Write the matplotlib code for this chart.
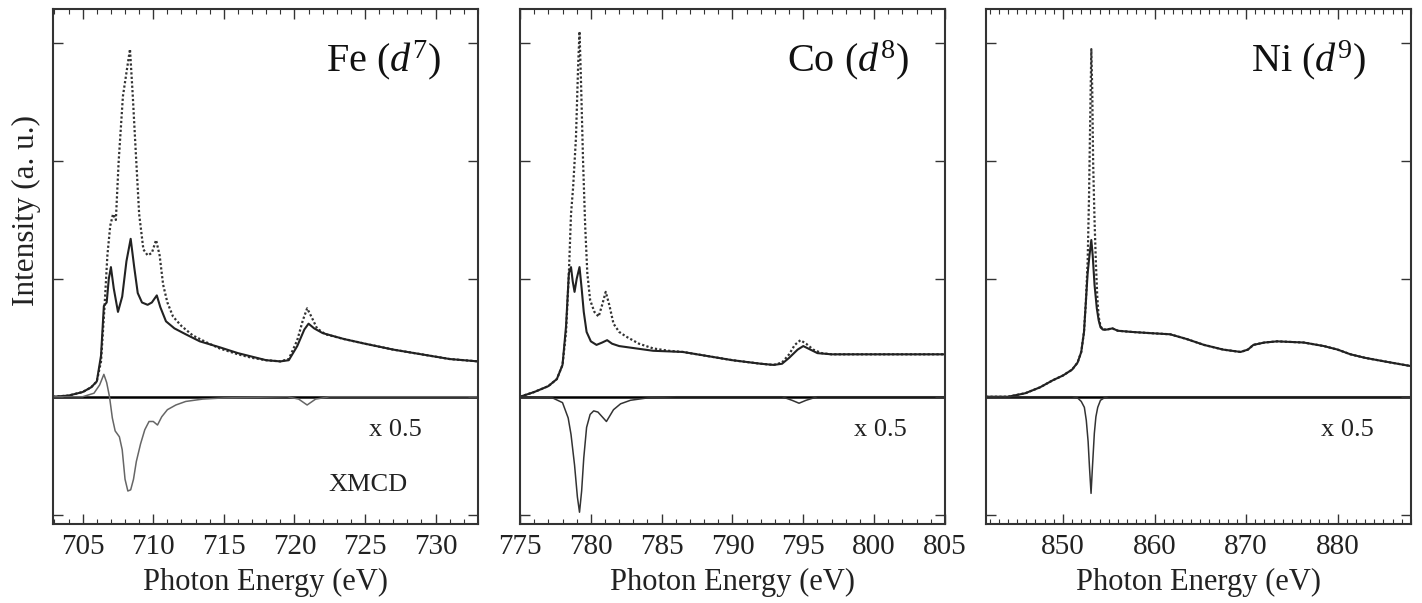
import matplotlib
matplotlib.use('Agg')
import matplotlib.pyplot as plt
from matplotlib.ticker import MultipleLocator

plt.rcParams['font.family'] = 'Liberation Serif'
plt.rcParams['mathtext.fontset'] = 'custom'
plt.rcParams['mathtext.rm'] = 'Liberation Serif'
plt.rcParams['mathtext.it'] = 'Liberation Serif:italic'

# ---- Fe L2,3 edge ----
fe_x_dot = [702.9, 704.0, 705.0, 705.6, 706.0, 706.3, 706.55, 706.75, 706.95, 707.15, 707.35,
            707.55, 707.85, 708.1, 708.35, 708.55, 708.75, 709.0, 709.3, 709.6, 709.9, 710.2,
            710.45, 710.7, 711.0, 711.4, 712.0, 712.8, 713.8, 714.7, 716.0, 717.0, 718.0, 719.0,
            719.6, 720.2, 720.6, 720.9, 721.2, 721.6, 722.2, 723.5, 725.0, 727.0, 729.0, 731.0, 733.0]
fe_y_dot = [0.0, 0.01, 0.04, 0.08, 0.13, 0.30, 0.77, 1.20, 1.45, 1.55, 1.50,
            2.00, 2.55, 2.75, 2.95, 2.55, 2.10, 1.55, 1.25, 1.20, 1.22, 1.33,
            1.20, 0.95, 0.80, 0.68, 0.60, 0.52, 0.46, 0.41, 0.36, 0.33, 0.31, 0.30,
            0.32, 0.48, 0.65, 0.75, 0.68, 0.58, 0.53, 0.49, 0.45, 0.40, 0.36, 0.32, 0.30]
fe_x_sol = [702.9, 704.0, 705.0, 705.6, 706.0, 706.3, 706.5, 706.7, 706.85, 707.0, 707.2,
            707.5, 707.8, 708.1, 708.4, 708.65, 708.9, 709.2, 709.6, 709.9, 710.25, 710.5,
            710.9, 711.5, 712.3, 713.3, 714.7, 716.0, 717.0, 718.0, 719.0, 719.6, 720.2,
            720.7, 721.0, 721.4, 722.0, 723.5, 725.0, 727.0, 729.0, 731.0, 733.0]
fe_y_sol = [0.0, 0.01, 0.04, 0.08, 0.13, 0.35, 0.77, 0.80, 1.00, 1.10, 0.92,
            0.72, 0.85, 1.15, 1.34, 1.10, 0.88, 0.80, 0.78, 0.80, 0.86, 0.76,
            0.64, 0.58, 0.53, 0.47, 0.42, 0.37, 0.34, 0.31, 0.30, 0.31, 0.43,
            0.57, 0.62, 0.58, 0.54, 0.49, 0.45, 0.40, 0.36, 0.32, 0.30]
fe_x_mcd = [702.9, 705.0, 705.8, 706.2, 706.5, 706.7, 706.9, 707.1, 707.3, 707.6, 707.8,
            708.0, 708.2, 708.4, 708.6, 708.8, 709.1, 709.4, 709.7, 710.0, 710.3, 710.6,
            711.0, 711.6, 712.3, 713.5, 715.0, 719.5, 720.3, 720.9, 721.5, 722.5, 733.0]
fe_y_mcd = [0.0, 0.0, 0.03, 0.10, 0.19, 0.12, 0.0, -0.18, -0.29, -0.34, -0.45,
            -0.70, -0.80, -0.79, -0.70, -0.55, -0.40, -0.28, -0.21, -0.21, -0.24, -0.17,
            -0.11, -0.07, -0.04, -0.02, -0.01, 0.0, -0.02, -0.07, -0.02, 0.0, 0.0]

# ---- Co L2,3 edge ----
co_x_dot = [775.0, 776.0, 777.0, 777.6, 778.0, 778.25, 778.45, 778.6, 778.75, 778.95, 779.1,
            779.2, 779.3, 779.45, 779.6, 779.75, 779.95, 780.25, 780.55, 780.8, 781.05, 781.3,
            781.6, 782.0, 782.5, 783.4, 784.4, 785.5, 786.5, 788.0, 790.0, 792.0, 792.9,
            793.5, 794.0, 794.4, 794.8, 795.2, 795.7, 796.3, 797.0, 805.0]
co_y_dot = [0.0, 0.04, 0.09, 0.15, 0.27, 0.55, 1.05, 1.55, 1.78, 2.20, 2.80,
            3.10, 2.70, 2.00, 1.45, 1.05, 0.82, 0.72, 0.68, 0.78, 0.89, 0.78,
            0.62, 0.55, 0.51, 0.45, 0.41, 0.39, 0.38, 0.35, 0.31, 0.28, 0.27,
            0.29, 0.36, 0.44, 0.48, 0.45, 0.40, 0.37, 0.36, 0.36]
co_x_sol = [775.0, 776.0, 777.0, 777.6, 778.0, 778.25, 778.45, 778.6, 778.72, 778.85, 779.0,
            779.2, 779.35, 779.5, 779.7, 780.0, 780.4, 780.8, 781.15, 781.5, 782.0, 783.2,
            784.4, 786.5, 788.0, 790.0, 792.0, 792.9, 793.5, 794.0, 794.6, 795.0, 795.5,
            796.0, 797.0, 805.0]
co_y_sol = [0.0, 0.04, 0.09, 0.15, 0.27, 0.60, 1.05, 1.10, 0.98, 0.89, 1.00,
            1.10, 0.92, 0.72, 0.55, 0.47, 0.44, 0.46, 0.48, 0.45, 0.43, 0.41,
            0.39, 0.38, 0.35, 0.31, 0.28, 0.27, 0.28, 0.33, 0.40, 0.43, 0.40,
            0.37, 0.36, 0.36]
co_x_mcd = [775.0, 777.3, 778.0, 778.4, 778.6, 778.85, 779.05, 779.2, 779.35, 779.5, 779.7,
            779.95, 780.2, 780.5, 780.8, 781.1, 781.35, 781.6, 782.1, 782.8, 784.0, 786.0,
            793.5, 794.2, 794.7, 795.2, 796.0, 805.0]
co_y_mcd = [0.0, -0.01, -0.05, -0.18, -0.32, -0.58, -0.85, -0.98, -0.80, -0.52, -0.26,
            -0.15, -0.12, -0.13, -0.17, -0.21, -0.16, -0.11, -0.06, -0.03, -0.01, 0.0,
            0.0, -0.03, -0.055, -0.03, 0.0, 0.0]

# ---- Ni L2,3 edge ----
ni_x_dot = [841.6, 844.0, 845.9, 847.5, 848.9, 850.0, 851.0, 851.6, 852.0, 852.3, 852.5,
            852.7, 852.85, 852.96, 853.1, 853.2, 853.3, 853.45, 853.6, 853.75, 853.9, 854.1,
            854.35, 854.8, 855.4, 856.0, 857.5, 859.5, 861.7, 863.5, 865.4, 867.5, 869.4,
            870.2, 870.8, 872.0, 873.4, 876.3, 878.5, 880.0, 881.4, 883.0, 885.1, 888.0]
ni_y_dot = [0.0, 0.0, 0.03, 0.08, 0.14, 0.18, 0.23, 0.29, 0.38, 0.55, 0.80,
            1.15, 1.70, 2.26, 2.95, 2.60, 1.98, 1.50, 1.13, 0.85, 0.68, 0.60,
            0.57, 0.57, 0.58, 0.56, 0.55, 0.54, 0.53, 0.49, 0.44, 0.40, 0.38,
            0.40, 0.44, 0.46, 0.47, 0.46, 0.43, 0.40, 0.36, 0.33, 0.30, 0.26]
ni_x_sol = [841.6, 844.0, 845.9, 847.5, 848.9, 850.0, 851.0, 851.6, 852.0, 852.3, 852.5,
            852.7, 852.9, 853.1, 853.25, 853.45, 853.7, 853.9, 854.1, 854.35, 854.8, 855.4,
            856.0, 857.5, 859.5, 861.7, 863.5, 865.4, 867.5, 869.4, 870.2, 870.8, 872.0,
            873.4, 876.3, 878.5, 880.0, 881.4, 883.0, 885.1, 888.0]
ni_y_sol = [0.0, 0.0, 0.03, 0.08, 0.14, 0.18, 0.23, 0.29, 0.38, 0.55, 0.80,
            1.05, 1.20, 1.33, 1.20, 0.95, 0.75, 0.65, 0.59, 0.57, 0.57, 0.58,
            0.56, 0.55, 0.54, 0.53, 0.49, 0.44, 0.40, 0.38, 0.40, 0.44, 0.46,
            0.47, 0.46, 0.43, 0.40, 0.36, 0.33, 0.30, 0.26]
ni_x_mcd = [841.6, 851.0, 851.6, 852.0, 852.34, 852.55, 852.75, 852.9, 853.07, 853.22,
            853.43, 853.6, 853.8, 854.1, 854.5, 855.0, 888.0]
ni_y_mcd = [0.0, 0.0, -0.01, -0.04, -0.09, -0.20, -0.38, -0.60, -0.82, -0.60,
            -0.31, -0.17, -0.09, -0.03, -0.01, 0.0, 0.0]

panels = [
    dict(xd=fe_x_dot, yd=fe_y_dot, xs=fe_x_sol, ys=fe_y_sol, xm=fe_x_mcd, ym=fe_y_mcd,
         xlim=(702.9, 733.0), major=5, title=r'Fe ($d^7$)', tx=0.915, sx=0.867,
         mcd_color='#666666', left=0.0373),
    dict(xd=co_x_dot, yd=co_y_dot, xs=co_x_sol, ys=co_y_sol, xm=co_x_mcd, ym=co_y_mcd,
         xlim=(775.0, 805.0), major=5, title=r'Co ($d^8$)', tx=0.915, sx=0.91,
         mcd_color='#333333', left=0.3657),
    dict(xd=ni_x_dot, yd=ni_y_dot, xs=ni_x_sol, ys=ni_y_sol, xm=ni_x_mcd, ym=ni_y_mcd,
         xlim=(841.6, 888.0), major=10, title=r'Ni ($d^9$)', tx=0.895, sx=0.913,
         mcd_color='#333333', left=0.6934),
]

fig = plt.figure(figsize=(14.22, 6.03), dpi=100)

for i, p in enumerate(panels):
    ax = fig.add_axes([p['left'], 0.131, 0.2988, 0.854])
    ax.axhline(0, color='black', lw=1.8, zorder=1)
    ax.plot(p['xd'], p['yd'], color='#333333', lw=1.6, linestyle=(0, (1, 1)))
    ax.plot(p['xs'], p['ys'], color='#222222', lw=1.5)
    ax.plot(p['xm'], p['ym'], color=p['mcd_color'], lw=1.1)
    ax.set_xlim(*p['xlim'])
    ax.set_ylim(-1.08, 3.29)
    ax.xaxis.set_major_locator(MultipleLocator(p['major']))
    ax.xaxis.set_minor_locator(MultipleLocator(1))
    ax.set_yticks([-1, 0, 1, 2, 3])
    ax.set_yticklabels([])
    ax.tick_params(which='both', direction='in', top=True, right=True, colors='#333333',
                   labelcolor='#222222', labelsize=21, pad=7)
    ax.tick_params(which='major', length=7, width=1.0)
    ax.tick_params(which='minor', length=3.5, width=0.8)
    for s in ax.spines.values():
        s.set_linewidth(1.5)
        s.set_color('#333333')
    ax.set_xlabel('Photon Energy (eV)', fontsize=22, color='#222222', labelpad=6)
    if i == 0:
        ax.set_ylabel('Intensity (a. u.)', fontsize=22.5, color='#222222')
        ax.yaxis.set_label_coords(-0.028, 0.608)
        ax.text(0.742, 0.076, 'XMCD', transform=ax.transAxes, fontsize=19,
                ha='center', va='center', color='#222222')
    ax.text(p['tx'], 0.9, p['title'], transform=ax.transAxes, fontsize=29,
            ha='right', va='center', color='#111111')
    ax.text(p['sx'], 0.183, 'x 0.5', transform=ax.transAxes, fontsize=19,
            ha='right', va='center', color='#222222')

fig.savefig('out.png', dpi=100)
